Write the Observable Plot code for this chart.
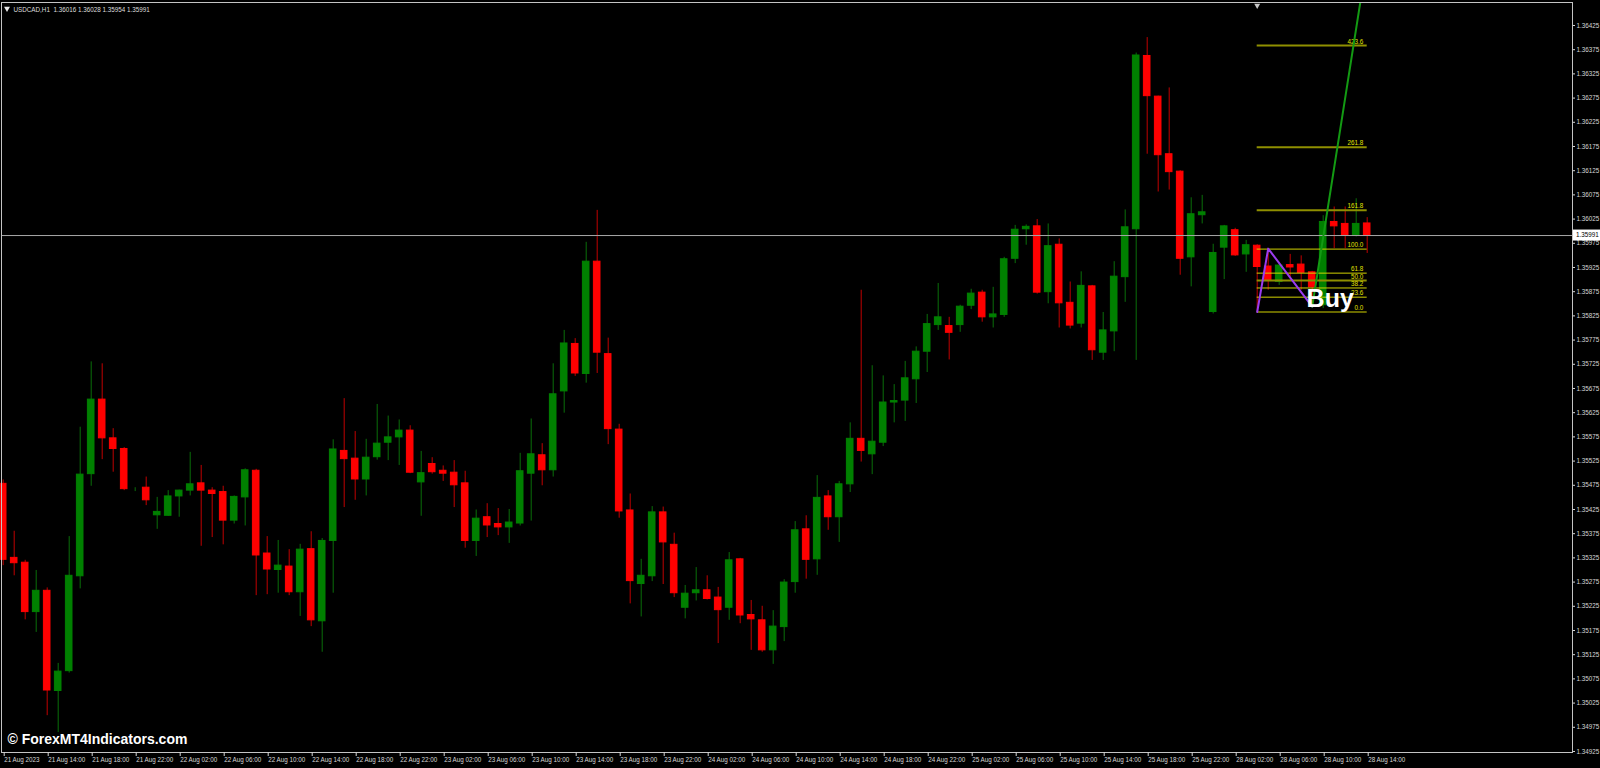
<!DOCTYPE html>
<html>
<head>
<meta charset="utf-8">
<script src="https://cdn.jsdelivr.net/npm/d3@7"></script>
<script src="https://cdn.jsdelivr.net/npm/@observablehq/plot@0.6"></script>
<style>
html,body{margin:0;padding:0;background:#000;overflow:hidden}
#chart svg{display:block}
</style>
</head>
<body>
<div id="chart"></div>
<script>
// ---------- DATA (USDCAD H1) ----------
const symbolName = "USDCAD,H1";
const open = [1.35478,1.35325,1.35315,1.35213,1.35257,1.35050,1.35091,1.35287,1.35498,1.35652,
1.35572,1.35550,1.35467,1.35470,1.35413,1.35412,1.35452,1.35464,1.35479,1.35464,
1.35461,1.35402,1.35450,1.35505,1.35334,1.35300,1.35307,1.35254,1.35343,1.35194,
1.35360,1.35546,1.35530,1.35487,1.35533,1.35563,1.35574,1.35588,1.35481,1.35519,
1.35505,1.35501,1.35479,1.35360,1.35409,1.35395,1.35388,1.35396,1.35499,1.35537,
1.35506,1.35669,1.35767,1.35705,1.35937,1.35746,1.35590,1.35423,1.35271,1.35287,
1.35419,1.35352,1.35222,1.35252,1.35258,1.35243,1.35222,1.35322,1.35207,1.35196,
1.35134,1.35182,1.35275,1.35384,1.35322,1.35452,1.35409,1.35477,1.35571,1.35539,
1.35563,1.35646,1.35650,1.35694,1.35751,1.35806,1.35804,1.35806,1.35846,1.35873,
1.35822,1.35827,1.35943,1.36004,1.36010,1.35874,1.35972,1.35852,1.35809,1.35886,
1.35749,1.35793,1.35905,1.36004,1.36362,1.36278,1.36159,1.36123,1.35946,1.36033,
1.35833,1.35966,1.36002,1.35952,1.35970,1.35927,1.35895,1.35930,1.35931,1.35915,
1.35847,1.36019,1.36015,1.35991,1.36016];
const high = [1.35486,1.35380,1.35320,1.35299,1.35263,1.35107,1.35369,1.35595,1.35730,1.35726,
1.35592,1.35553,1.35470,1.35492,1.35450,1.35464,1.35465,1.35543,1.35516,1.35470,
1.35473,1.35453,1.35509,1.35508,1.35369,1.35361,1.35342,1.35353,1.35379,1.35365,
1.35569,1.35654,1.35586,1.35570,1.35642,1.35618,1.35610,1.35598,1.35545,1.35532,
1.35515,1.35526,1.35504,1.35424,1.35437,1.35427,1.35425,1.35541,1.35612,1.35561,
1.35726,1.35795,1.35778,1.35977,1.36043,1.35779,1.35601,1.35457,1.35322,1.35431,
1.35430,1.35376,1.35268,1.35305,1.35288,1.35264,1.35336,1.35324,1.35237,1.35225,
1.35216,1.35280,1.35400,1.35412,1.35495,1.35464,1.35483,1.35604,1.35878,1.35722,
1.35701,1.35683,1.35731,1.35761,1.35828,1.35892,1.35822,1.35847,1.35880,1.35878,
1.35884,1.35946,1.36012,1.36013,1.36024,1.36015,1.35984,1.35895,1.35916,1.35888,
1.35832,1.35937,1.36044,1.36368,1.36400,1.36279,1.36296,1.36125,1.36069,1.36074,
1.35973,1.36012,1.36006,1.35981,1.35972,1.35964,1.35930,1.35952,1.35949,1.35917,
1.36032,1.36050,1.36050,1.36067,1.36028];
const low = [1.35309,1.35288,1.35197,1.35171,1.34999,1.34964,1.35087,1.35261,1.35473,1.35528,
1.35502,1.35464,1.35462,1.35433,1.35384,1.35411,1.35409,1.35453,1.35349,1.35367,
1.35352,1.35395,1.35391,1.35247,1.35249,1.35252,1.35247,1.35204,1.35183,1.35130,
1.35252,1.35429,1.35444,1.35453,1.35527,1.35526,1.35516,1.35499,1.35411,1.35498,
1.35483,1.35429,1.35345,1.35328,1.35367,1.35371,1.35355,1.35391,1.35401,1.35474,
1.35492,1.35624,1.35700,1.35686,1.35706,1.35559,1.35407,1.35230,1.35203,1.35276,
1.35270,1.35243,1.35199,1.35236,1.35238,1.35148,1.35196,1.35189,1.35134,1.35130,
1.35105,1.35152,1.35252,1.35281,1.35289,1.35382,1.35357,1.35460,1.35523,1.35497,
1.35555,1.35604,1.35607,1.35644,1.35708,1.35795,1.35734,1.35791,1.35838,1.35812,
1.35800,1.35822,1.35933,1.35971,1.35870,1.35850,1.35800,1.35798,1.35800,1.35733,
1.35733,1.35751,1.35853,1.35733,1.36159,1.36081,1.36085,1.35909,1.35885,1.36015,
1.35829,1.35900,1.35948,1.35915,1.35833,1.35878,1.35888,1.35905,1.35878,1.35844,
1.35840,1.35964,1.35964,1.35988,1.35954];
const close = [1.35321,1.35314,1.35213,1.35257,1.35051,1.35090,1.35288,1.35497,1.35652,1.35572,
1.35550,1.35467,1.35467,1.35444,1.35420,1.35452,1.35464,1.35477,1.35464,1.35457,
1.35402,1.35451,1.35506,1.35330,1.35301,1.35309,1.35254,1.35342,1.35196,1.35360,
1.35549,1.35529,1.35487,1.35532,1.35561,1.35574,1.35588,1.35501,1.35500,1.35502,
1.35499,1.35475,1.35360,1.35406,1.35392,1.35388,1.35398,1.35504,1.35539,1.35506,
1.35663,1.35768,1.35706,1.35937,1.35749,1.35591,1.35421,1.35277,1.35288,1.35419,
1.35357,1.35252,1.35251,1.35258,1.35240,1.35217,1.35320,1.35206,1.35198,1.35134,
1.35183,1.35274,1.35382,1.35321,1.35449,1.35409,1.35477,1.35571,1.35546,1.35565,
1.35646,1.35649,1.35696,1.35751,1.35808,1.35822,1.35790,1.35844,1.35871,1.35822,
1.35828,1.35942,1.36003,1.36009,1.35873,1.35969,1.35851,1.35805,1.35887,1.35754,
1.35795,1.35906,1.36008,1.36363,1.36279,1.36157,1.36122,1.35943,1.36035,1.36039,
1.35955,1.36010,1.35950,1.35971,1.35926,1.35897,1.35929,1.35925,1.35914,1.35884,
1.36019,1.36010,1.35991,1.36015,1.35991];

// time-axis labels, one every 4 bars starting at bar 0
const timeLabels = ["21 Aug 2023","21 Aug 14:00","21 Aug 18:00","21 Aug 22:00",
"22 Aug 02:00","22 Aug 06:00","22 Aug 10:00","22 Aug 14:00","22 Aug 18:00","22 Aug 22:00",
"23 Aug 02:00","23 Aug 06:00","23 Aug 10:00","23 Aug 14:00","23 Aug 18:00","23 Aug 22:00",
"24 Aug 02:00","24 Aug 06:00","24 Aug 10:00","24 Aug 14:00","24 Aug 18:00","24 Aug 22:00",
"25 Aug 02:00","25 Aug 06:00","25 Aug 10:00","25 Aug 14:00","25 Aug 18:00","25 Aug 22:00",
"28 Aug 02:00","28 Aug 06:00","28 Aug 10:00","28 Aug 14:00"];
const labelEvery = 4;

// price axis ticks
const priceTickFirst = 1.34925, priceTickStep = 0.0005, priceTickCount = 31;

// Fibonacci levels (anchored on the zigzag swing)
const fibRatios = [0, 23.6, 38.2, 50, 61.8, 100, 161.8, 261.8, 423.6];
const fibLowPrice = 1.35833, fibHighPrice = 1.35963;
const fibStartBar = 114, fibEndBar = 124;

// zigzag swing and projected target line
const zigzagBars = [114, 115, 119];
const zigzagPrices = [1.35833, 1.35964, 1.35844];
const targetBars = [119, 124];
const targetPrices = [1.35844, 1.36563];

// signal
const signalText = "Buy", signalBar = 120;
const shiftMarkerBar = 114;
const watermark = "\u00A9 ForexMT4Indicators.com";

// ---------- BUILD ----------
const W = 1600, H = 768;
const bars = open.map((o, i) => ({i, o, h: high[i], l: low[i], c: close[i], up: close[i] >= open[i]}));
const upBars = bars.filter(d => d.up), downBars = bars.filter(d => !d.up);
const last = bars[bars.length - 1];
const fmt5 = d3.format(".5f");
const priceTicks = d3.range(priceTickCount).map(i => +(priceTickFirst + i * priceTickStep).toFixed(5));
const tickBars = timeLabels.map((_, j) => j * labelEvery);
const fibPrice = r => fibLowPrice + r / 100 * (fibHighPrice - fibLowPrice);
const strongFib = new Set([50, 161.8, 261.8, 423.6]);
const zigzag = zigzagBars.map((b, i) => ({b, p: zigzagPrices[i]}));
const target = targetBars.map((b, i) => ({b, p: targetPrices[i]}));
const titleStr = `${symbolName}  ${fmt5(last.o)} ${fmt5(last.h)} ${fmt5(last.l)} ${fmt5(last.c)}`;

const GREEN = "#008000", RED = "#ff0000", GREEN_WICK = "#0a6e0a", RED_WICK = "#c00000";
const AXIS = "#d6d6d6", FS = 6.3;

const chart = Plot.plot({
  width: W, height: H,
  marginLeft: 1, marginRight: 28, marginTop: 2, marginBottom: 16,
  style: {background: "#000", color: AXIS, fontFamily: "'Liberation Sans', Arial, sans-serif"},
  x: {type: "linear", domain: [-0.1545, 142.664], axis: null},
  y: {domain: [1.349229, 1.364725], axis: null},
  marks: [
    // wicks
    Plot.ruleX(upBars, {x: "i", y1: "l", y2: "h", stroke: GREEN_WICK, strokeWidth: 1}),
    Plot.ruleX(downBars, {x: "i", y1: "l", y2: "h", stroke: RED_WICK, strokeWidth: 1}),
    // bodies
    Plot.rect(upBars, {x1: d => d.i - 0.3, x2: d => d.i + 0.3, y1: "o", y2: "c", fill: GREEN, stroke: GREEN, strokeWidth: 1}),
    Plot.rect(downBars, {x1: d => d.i - 0.3, x2: d => d.i + 0.3, y1: "o", y2: "c", fill: RED, stroke: RED, strokeWidth: 1}),
    // current price line
    Plot.ruleY([last.c], {stroke: "#a8a8a8", strokeWidth: 1}),
    // fibonacci
    Plot.ruleY(fibRatios.filter(r => strongFib.has(r)), {y: fibPrice, x1: fibStartBar, x2: fibEndBar, stroke: "#8f8f00", strokeWidth: 2}),
    Plot.ruleY(fibRatios.filter(r => !strongFib.has(r)), {y: fibPrice, x1: fibStartBar, x2: fibEndBar, stroke: "#d2d200", strokeWidth: 1}),
    Plot.text(fibRatios, {x: fibEndBar, y: fibPrice, text: r => r.toFixed(1), textAnchor: "end", dx: -4, dy: -4, fill: "#e0e000", fontSize: FS}),
    // zigzag and target
    Plot.line(zigzag, {x: "b", y: "p", stroke: "#9a3cf0", strokeWidth: 2}),
    Plot.line(target, {x: "b", y: "p", stroke: "#139a13", strokeWidth: 2, clip: true}),
    // signal text
    Plot.text([signalText], {x: signalBar, y: fibLowPrice, text: d => d, fill: "white", fontSize: 25, fontWeight: "bold", dx: 7, dy: -13, textAnchor: "middle"}),
    // frame
    Plot.frame({stroke: "#c4c4c4"}),
    // axes
    Plot.axisY(priceTicks, {anchor: "right", tickFormat: fmt5, tickSize: 2, tickPadding: 2, fontSize: FS, color: AXIS, label: null}),
    Plot.axisX(tickBars, {anchor: "bottom", tickFormat: d => timeLabels[d / labelEvery], tickSize: 4, tickPadding: 1, textAnchor: "start", dx: 1, fontSize: FS, color: AXIS, label: null}),
    // title
    Plot.dot([0], {frameAnchor: "top-left", dx: 5.5, dy: 6, symbol: "triangle", r: 2.2, rotate: 180, fill: "#e8e8e8", stroke: null}),
    Plot.text([titleStr], {frameAnchor: "top-left", dx: 12, dy: 5, textAnchor: "start", fontSize: FS, fill: "#dcdcdc", text: d => d}),
    // chart shift marker
    Plot.dot([shiftMarkerBar], {x: d => d, frameAnchor: "top", dy: 3, symbol: "triangle", r: 2.2, rotate: 180, fill: "#c8c8c8", stroke: null}),
    // watermark
    Plot.text([watermark], {frameAnchor: "bottom-left", dx: 6, dy: -9, textAnchor: "start", fontSize: 14, fontWeight: "bold", fill: "white", text: d => d})
  ]
});
document.getElementById("chart").appendChild(chart);

// price tag box on the right axis at the current close (positioned with Plot's y scale)
const yPos = chart.scale("y").apply(last.c);
const ns = "http://www.w3.org/2000/svg";
const g = document.createElementNS(ns, "g");
const rect = document.createElementNS(ns, "rect");
rect.setAttribute("x", W - 28 + 1); rect.setAttribute("y", yPos - 5.5);
rect.setAttribute("width", 27); rect.setAttribute("height", 11); rect.setAttribute("fill", "#ffffff");
const t = document.createElementNS(ns, "text");
t.setAttribute("x", W - 28 + 4); t.setAttribute("y", yPos); t.setAttribute("dy", "0.35em");
t.setAttribute("text-anchor", "start");
t.setAttribute("font-size", FS); t.setAttribute("fill", "#000"); t.textContent = fmt5(last.c);
g.appendChild(rect); g.appendChild(t); chart.appendChild(g);
</script>
</body>
</html>
